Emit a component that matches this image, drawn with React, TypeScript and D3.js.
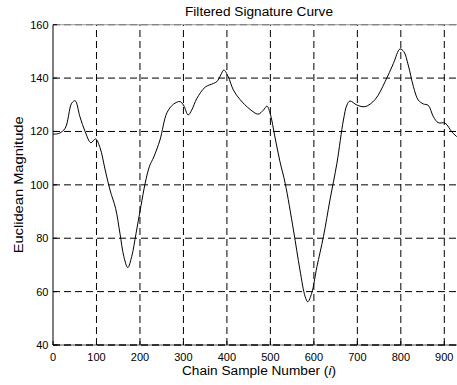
import React from "react";
import * as d3 from "d3";

const sampleIdx = [0, 14, 28, 43, 51, 62, 74, 87, 98, 108, 120, 131, 144, 154, 163, 172, 181, 191, 202, 212, 222, 232, 246, 262, 277, 292, 300, 311, 319, 331, 350, 369, 377, 386, 393, 403, 415, 430, 453, 472, 484, 492, 499, 511, 522, 534, 553, 568, 580, 586, 595, 607, 622, 637, 653, 668, 676, 683, 699, 718, 741, 764, 783, 798, 807, 817, 829, 840, 852, 863, 875, 886, 902, 917, 929];
const magnitude = [119, 119.3, 121.2, 130.6, 131.5, 125.5, 119.9, 115.8, 117.2, 114, 105.6, 98.1, 91.2, 81.8, 73.1, 69, 73.1, 81.8, 91.8, 100.6, 107, 110.5, 116.8, 127, 130.2, 131.2, 129.9, 126.2, 128, 132.4, 136.6, 138, 138.7, 141.2, 143, 140.5, 135.5, 132, 128.3, 126.5, 128, 129.5, 127, 117.5, 108.7, 100.6, 83.1, 68.1, 58.1, 56.2, 59.4, 69.3, 80.6, 94.3, 108.1, 124.3, 129.9, 131.4, 129.9, 129.3, 132, 138.7, 145.5, 150.9, 149.9, 144.9, 136.8, 131.8, 130.3, 129.8, 125.5, 123.3, 123.1, 119.9, 118];
const xTicks = [0, 100, 200, 300, 400, 500, 600, 700, 800, 900];
const yTicks = [40, 60, 80, 100, 120, 140, 160];

const W = 457;
const H = 385;
const FONT = "Liberation Sans, Arial, sans-serif";

export default function App() {
  const x = d3.scaleLinear().domain([0, 900]).range([53, 444.3]);
  const y = d3.scaleLinear().domain([40, 160]).range([345, 24.7]);
  const line = d3
    .line<number>()
    .x((_, i) => x(sampleIdx[i]))
    .y((d) => y(d))
    .curve(d3.curveCatmullRom.alpha(0.5));
  const dash = "7,4";
  return (
    <svg
      width={W}
      height={H}
      style={{ position: "absolute", left: 0, top: 0, background: "#fff" }}
      fontFamily={FONT}
    >
      <rect x={0} y={0} width={W} height={H} fill="#fff" />
      {/* grid */}
      {xTicks
        .filter((t) => t > 0)
        .map((t) => (
          <line
            key={"gx" + t}
            x1={x(t)}
            x2={x(t)}
            y1={y(40)}
            y2={y(160)}
            stroke="#000"
            strokeWidth={1}
            strokeDasharray={dash}
          />
        ))}
      {yTicks.map((t) => (
        <line
          key={"gy" + t}
          x1={x(0)}
          x2={W}
          y1={y(t)}
          y2={y(t)}
          stroke="#000"
          strokeWidth={1}
          strokeDasharray={dash}
        />
      ))}
      {/* top and bottom faint solid lines */}
      <line x1={x(0)} x2={W} y1={y(160)} y2={y(160)} stroke="#999" strokeWidth={1} />
      <line x1={x(0)} x2={W} y1={y(40)} y2={y(40)} stroke="#555" strokeWidth={1} />
      <line x1={x(0)} x2={W} y1={y(40)} y2={y(40)} stroke="#000" strokeWidth={1} strokeDasharray={dash} />
      {/* left axis */}
      <line x1={x(0)} x2={x(0)} y1={y(40)} y2={y(160)} stroke="#000" strokeWidth={1} />
      {/* ticks */}
      {xTicks.map((t) => (
        <line key={"tx" + t} x1={x(t)} x2={x(t)} y1={y(40)} y2={y(40) - 4} stroke="#000" />
      ))}
      {yTicks.map((t) => (
        <line key={"ty" + t} x1={x(0)} x2={x(0) + 4} y1={y(t)} y2={y(t)} stroke="#000" />
      ))}
      {/* curve */}
      <path d={line(magnitude) || ""} fill="none" stroke="#000" strokeWidth={1} />
      {/* tick labels */}
      {xTicks.map((t) => (
        <text key={"lx" + t} x={x(t)} y={360.5} fontSize={11} textAnchor="middle" fill="#000">
          {t}
        </text>
      ))}
      {yTicks.map((t) => (
        <text key={"ly" + t} x={48.5} y={y(t) + 4} fontSize={11} textAnchor="end" fill="#000">
          {t}
        </text>
      ))}
      <text
        x={259}
        y={16}
        fontSize={12}
        textAnchor="middle"
        fill="#000"
        textLength={148}
        lengthAdjust="spacingAndGlyphs"
      >
        Filtered Signature Curve
      </text>
      <text
        x={259}
        y={375}
        fontSize={12.5}
        textAnchor="middle"
        fill="#000"
        textLength={154}
        lengthAdjust="spacingAndGlyphs"
      >
        Chain Sample Number (<tspan fontStyle="italic">i</tspan>)
      </text>
      <text
        transform={`translate(23,${y(100)}) rotate(-90)`}
        fontSize={13.5}
        textAnchor="middle"
        fill="#000"
        textLength={137}
        lengthAdjust="spacingAndGlyphs"
      >
        Euclidean Magnitude
      </text>
    </svg>
  );
}
